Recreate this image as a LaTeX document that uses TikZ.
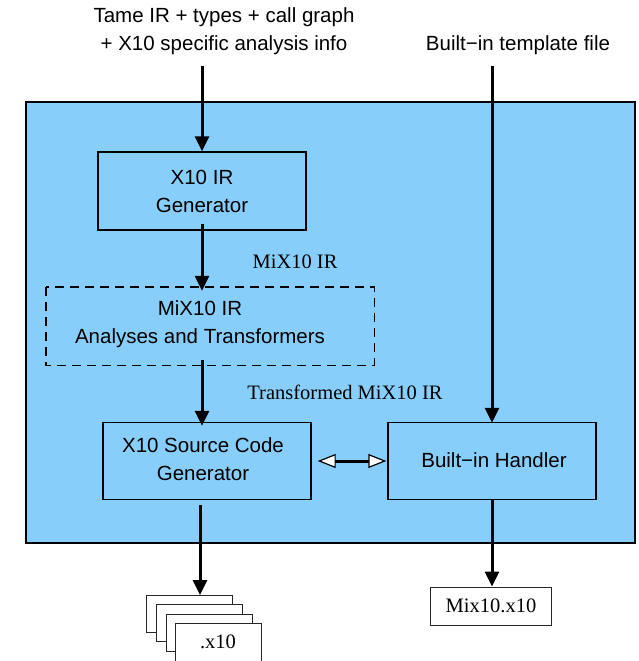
\documentclass[tikz,border=0pt]{standalone}
\usepackage{fontspec}
\setmainfont{Liberation Serif}
\setsansfont{Liberation Sans}
\usetikzlibrary{arrows.meta}
\definecolor{skyb}{HTML}{87CEFA}
\begin{document}
\begin{tikzpicture}[x=1pt,y=-1pt,
  box/.style={draw=black,line width=1.4pt,fill=skyb,inner sep=0pt},
  btxt/.style={font=\sffamily\fontsize{20.5}{28}\selectfont,align=center,inner sep=0pt},
  page/.style={draw=black!85,line width=1pt,fill=white,minimum width=86pt,minimum height=37pt,inner sep=0pt,anchor=north west},
  flow/.style={line width=3pt,-{Triangle[length=15pt,width=14pt]}},
  slbl/.style={font=\fontsize{20.5}{24}\selectfont,inner sep=0pt}]
\useasboundingbox (0,0) rectangle (639,661);
\fill[white] (0,0) rectangle (639,661);
\draw[line width=1.4pt,fill=skyb] (26,102) rectangle (635,543);
% top texts
\node[btxt] (in1) at (224,31) {Tame IR + types + call graph\\+ X10 specific analysis info};
\node[btxt] (in2) at (518,45) {Built\textminus in template file};
\coordinate (s1) at (202,66);
\coordinate (s2) at (492,66);
% boxes
\node[box,minimum width=208pt,minimum height=78pt] (gen) at (202,191) {};
\node[btxt] at (gen.center) {X10 IR\\Generator};
\node[minimum width=328pt,minimum height=78pt,inner sep=0pt] (ana) at (210,326) {};
\draw[dash pattern=on 9pt off 6pt,line width=1.4pt] (ana.north west) rectangle (ana.south east);
\node[btxt] at (200,324) {MiX10 IR\\Analyses and Transformers};
\node[box,minimum width=208pt,minimum height=77pt] (src) at (207,461) {};
\node[btxt] at (203,459) {X10 Source Code\\Generator};
\node[box,minimum width=208pt,minimum height=77pt] (hnd) at (492,461) {};
\node[btxt] at (494,460) {Built\textminus in Handler};
% edge labels
\node[slbl] (l1) at (295,262) {MiX10 IR};
\node[slbl] (l2) at (345,392) {Transformed MiX10 IR};
% arrows
\draw[flow] (s1) -- (gen.north -| s1);
\draw[flow] ([yshift=7pt]gen.south) -- ([yshift=-4pt]ana.north -| gen.south);
\draw[flow] ([yshift=5pt]ana.south -| gen.south) -- ([yshift=-4pt]src.north -| gen.south);
\draw[flow] (s2) -- ([yshift=-1pt]hnd.north -| s2);
\draw[line width=3pt,{Triangle[open,fill=white,length=18pt,width=14pt,line width=1.2pt]}-{Triangle[open,fill=white,length=18pt,width=14pt,line width=1.2pt]}] ([xshift=6pt]src.east) -- ([xshift=-1pt]hnd.west);
% outputs
\node[page] (p1) at (146,595) {};
\node[page] (p2) at (156,604) {};
\node[page] (p3) at (166,614) {};
\node[page,minimum height=40pt] (p4) at (175,623) {};
\node[slbl] (x10) at (218,642) {.x10};
\node[draw=black!85,line width=1pt,fill=white,minimum width=121pt,minimum height=38pt,inner sep=0pt,slbl] (mix) at (491,606) {Mix10.x10};
\coordinate (c1) at (200,505);
\draw[flow] (c1) -- (p1.north -| c1);
\draw[flow] (hnd.south -| s2) -- (mix.north -| s2);
\end{tikzpicture}
\end{document}
